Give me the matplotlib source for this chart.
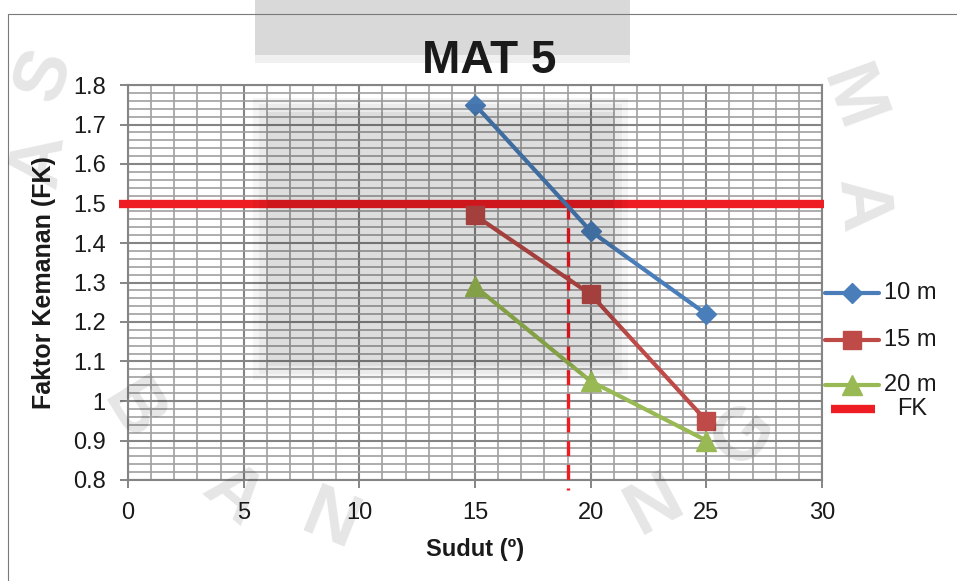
import numpy as np
import matplotlib
matplotlib.use("Agg")
import matplotlib.pyplot as plt
from matplotlib.lines import Line2D
from matplotlib.patches import Rectangle
from matplotlib.ticker import MultipleLocator

# Data
sudut = [15, 20, 25]
fk_10m = [1.75, 1.43, 1.22]
fk_15m = [1.47, 1.27, 0.95]
fk_20m = [1.29, 1.05, 0.90]
fk_batas = 1.5
sudut_kritis = 19
series_labels = ["10 m", "15 m", "20 m", "FK"]

W, H = 957, 581
plt.rcParams["font.family"] = ["Liberation Sans", "DejaVu Sans"]

fig = plt.figure(figsize=(W / 100, H / 100), dpi=100)
fig.patch.set_facecolor("white")


def fx(px):
    return px / W


def fy(py):
    return 1 - py / H


ax = fig.add_axes([fx(128), fy(480), fx(822) - fx(128), fy(85) - fy(480)])
ax.set_facecolor("white")
ax.set_xlim(0, 30)
ax.set_ylim(0.8, 1.8)
ax.xaxis.set_major_locator(MultipleLocator(5))
ax.xaxis.set_minor_locator(MultipleLocator(1))
ax.yaxis.set_major_locator(MultipleLocator(0.1))
ax.yaxis.set_minor_locator(MultipleLocator(0.02))
ax.grid(which="major", color="#858585", linewidth=1.5, zorder=0)
ax.grid(which="minor", color="#a0a0a0", linewidth=1.2, zorder=0)
ax.set_axisbelow(True)
for s in ax.spines.values():
    s.set_color("#858585")
    s.set_linewidth(1.5)

ax.tick_params(which="major", direction="out", length=6, width=1.4,
               color="#858585", labelsize=17, labelcolor="#1a1a1a", pad=10)
ax.tick_params(which="minor", length=0)
yt = np.round(np.arange(0.8, 1.81, 0.1), 1)
ax.set_yticks(yt)
ax.set_yticklabels(["%g" % v for v in yt])

c10, c15, c20, cfk = "#4a7ebb", "#be4b48", "#98b954", "#ee1d23"

ax.plot(sudut, fk_10m, color=c10, lw=3.0, marker="D", ms=10, zorder=5)
ax.plot(sudut, fk_15m, color=c15, lw=3.0, marker="s", ms=13, zorder=5)
ax.plot(sudut, fk_20m, color=c20, lw=3.0, marker="^", ms=14, zorder=5)

# Batas faktor keamanan
ax.plot([-0.4, 30.1], [fk_batas, fk_batas], color=cfk, lw=6, zorder=4,
        clip_on=False, solid_capstyle="butt")
ax.plot([sudut_kritis, sudut_kritis], [fk_batas, 0.775], color=cfk, lw=2.4,
        linestyle=(0, (4.5, 2.6)), zorder=4, clip_on=False)

ax.set_xlabel("Sudut (º)", fontsize=17, fontweight="bold", color="#1a1a1a",
              labelpad=10)
ax.set_ylabel("Faktor Kemanan (FK)", fontsize=18, fontweight="bold",
              color="#1a1a1a", labelpad=12)
fig.text(fx(489), fy(61), "MAT 5", fontsize=33, fontweight="bold",
         color="#1a1a1a", ha="center", va="center")

# Legend drawn at the right of the plot
leg_y = [293, 340, 385, 409]
styles = [(c10, "D", 10), (c15, "s", 13), (c20, "^", 14)]
for (col, mk, ms), yy, lab in zip(styles, leg_y[:3], series_labels[:3]):
    fig.add_artist(Line2D([fx(825), fx(879)], [fy(yy), fy(yy)], color=col,
                          lw=3.0, solid_capstyle="round"))
    fig.add_artist(Line2D([fx(852)], [fy(yy)], color=col, marker=mk, ms=ms))
    fig.text(fx(884), fy(yy), lab, fontsize=17, color="#1a1a1a",
             ha="left", va="center")
fig.add_artist(Line2D([fx(831), fx(875)], [fy(leg_y[3]), fy(leg_y[3])],
                      color=cfk, lw=6, solid_capstyle="butt"))
fig.text(fx(897), fy(leg_y[3]), series_labels[3], fontsize=17,
         color="#1a1a1a", ha="left", va="center")

# Page frame
fig.add_artist(Line2D([fx(8), fx(8), fx(957)], [fy(581), fy(14), fy(14)],
                      color="#7a7a7a", lw=0.8))

# Background watermark
fig.add_artist(Rectangle((fx(255), fy(55)), fx(630) - fx(255), fy(0) - fy(55),
                         facecolor="black", alpha=0.15, edgecolor="none",
                         zorder=-1))
fig.add_artist(Rectangle((fx(255), fy(63)), fx(630) - fx(255), fy(55) - fy(63),
                         facecolor="black", alpha=0.06, edgecolor="none",
                         zorder=-1))
for inset, a in [(0, 0.04), (6, 0.04), (14, 0.06)]:
    fig.add_artist(Rectangle((fx(253 + inset), fy(380 - inset)),
                             fx(628 - inset) - fx(253 + inset),
                             fy(98 + inset) - fy(380 - inset),
                             facecolor="black", alpha=a, edgecolor="none",
                             zorder=20))

letters = [("B", 132, 412, -58), ("A", 232, 495, -40), ("N", 330, 522, -22),
           ("N", 655, 505, 28), ("G", 745, 435, 48), ("M", 850, 100, -70),
           ("A", 860, 205, -85), ("S", 45, 75, 70), ("A", 40, 160, 82)]
for ch, x, y, r in letters:
    fig.text(fx(x), fy(y), ch, fontsize=54, fontweight="bold", color="black",
             alpha=0.10, rotation=r, ha="center", va="center", zorder=20)

fig.savefig("out.png", dpi=100)
